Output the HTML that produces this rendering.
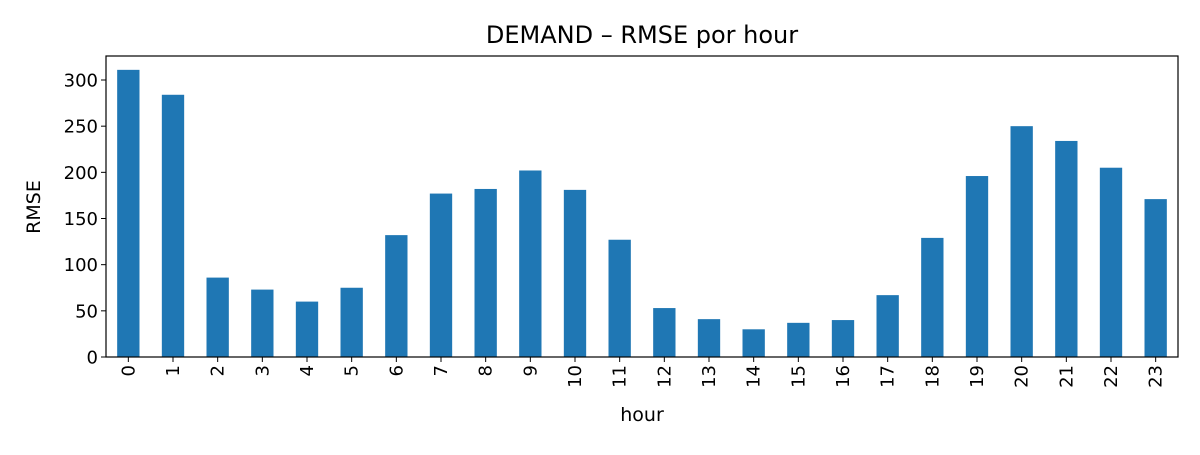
<!DOCTYPE html>
<html><head><meta charset="utf-8"><style>
body{margin:0;background:#fff;width:1200px;height:450px;overflow:hidden}
svg{font-family:"DejaVu Sans","Liberation Sans",sans-serif}
</style></head><body>
<svg id="chart" width="1200" height="450">
<text x="642" y="43" font-size="24" text-anchor="middle">DEMAND – RMSE por hour</text>
<text transform="translate(40,207) rotate(-90)" font-size="19" text-anchor="middle">RMSE</text>
<text x="642" y="421" font-size="19" text-anchor="middle">hour</text>
<g id="bars"></g><g id="axes"></g>
<rect x="106" y="56" width="1072" height="301" fill="none" stroke="#000" stroke-width="1.2"/>
</svg>
<script>
const categories=["0","1","2","3","4","5","6","7","8","9","10","11","12","13","14","15","16","17","18","19","20","21","22","23"];
const rmseValues=[311,284,86,73,60,75,132,177,182,202,181,127,53,41,30,37,40,67,129,196,250,234,205,171];
const yTicks=[0,50,100,150,200,250,300];
const L=106,R=1178,T=56,B=357,yMax=326;
const NS="http://www.w3.org/2000/svg";
const step=(R-L)/categories.length;
const xs=i=>L+step*(i+0.5);
const ys=v=>B-(v/yMax)*(B-T);
const bars=document.getElementById('bars'),axes=document.getElementById('axes');
function mk(t,a,p){const e=document.createElementNS(NS,t);for(const k in a)e.setAttribute(k,a[k]);p.appendChild(e);return e;}
rmseValues.forEach((v,i)=>{
 const r=mk('rect',{x:xs(i)-step*0.25,y:ys(v),width:step*0.5,height:B-ys(v),fill:'#1f77b4'},bars);
 
 
 const tk=mk('line',{x1:xs(i),x2:xs(i),y1:B,y2:B+5,stroke:'#000'},axes);
 
 
 const t=mk('text',{transform:`translate(${xs(i)+6},${B+8}) rotate(-90)`,'font-size':18,'text-anchor':'end'},axes);
 t.textContent=categories[i];
 
 
});
yTicks.forEach(v=>{
 const tk=mk('line',{x1:L-5,x2:L,y1:ys(v),y2:ys(v),stroke:'#000'},axes);
 
 
 const t=mk('text',{x:L-8,y:ys(v)+6.5,'font-size':18,'text-anchor':'end'},axes);
 t.textContent=v;
 
 
});
</script>
</body></html>
